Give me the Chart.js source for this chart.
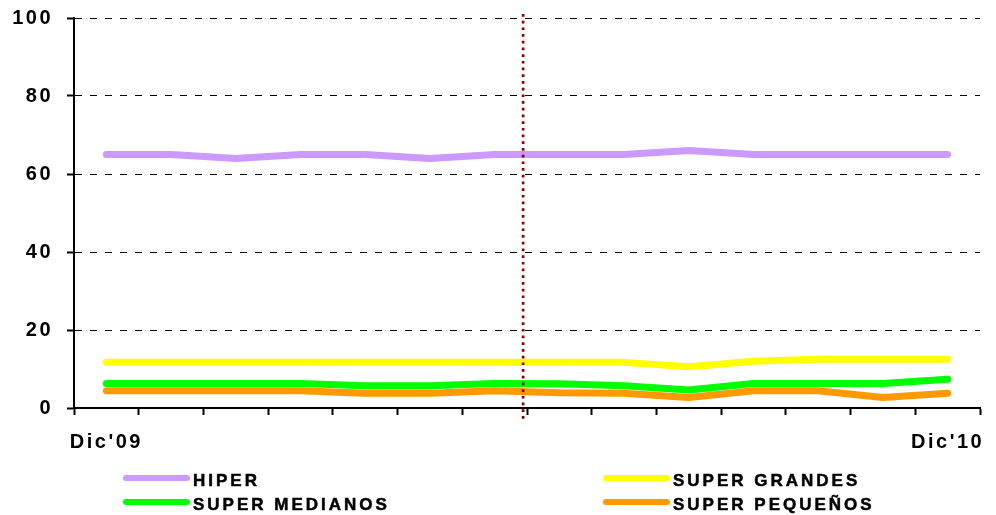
<!DOCTYPE html>
<html>
<head>
<meta charset="utf-8">
<script src="https://cdn.jsdelivr.net/npm/chart.js@4/dist/chart.umd.min.js"></script>
<style>
  html, body { margin: 0; padding: 0; background: #fff; }
  #wrap { position: relative; width: 996px; height: 515px; }
  #legend {
    position: absolute; left: 0; top: 0; width: 996px; height: 515px;
    pointer-events: none;
    font: bold 17px "Liberation Sans", Arial, sans-serif;
    letter-spacing: 3px; color: #000;
    -webkit-text-stroke: 0.5px #000;
  }
  .item { position: absolute; display: flex; align-items: center; height: 20px; white-space: nowrap; }
  .sw { width: 67px; height: 6px; border-radius: 3px; margin-right: 3px; position: relative; top: -3px; }
</style>
</head>
<body>
<div id="wrap">
  <canvas id="chart" width="996" height="515"></canvas>
  <div id="legend"></div>
</div>
<script>
  // ── 데이터 ──────────────────────────────────────────────
  var LABELS = ["Dic'09", "", "", "", "", "", "", "", "", "", "", "", "", "Dic'10"];
  var HIPER = [65, 65, 64, 65, 65, 64, 65, 65, 65, 66, 65, 65, 65, 65];
  var SUPER_GRANDES = [11.7, 11.7, 11.7, 11.7, 11.7, 11.7, 11.7, 11.7, 11.7, 10.6, 12, 12.5, 12.5, 12.5];
  var SUPER_MEDIANOS = [6.3, 6.3, 6.3, 6.3, 5.7, 5.7, 6.3, 6.2, 5.7, 4.6, 6.3, 6.3, 6.3, 7.4];
  var SUPER_PEQUENOS = [4.4, 4.4, 4.4, 4.4, 3.8, 3.8, 4.4, 3.9, 3.8, 2.7, 4.4, 4.4, 2.7, 3.8];
  var SERIES_NAMES = ["HIPER", "SUPER GRANDES", "SUPER MEDIANOS", "SUPER PEQUEÑOS"];
  var SERIES_COLORS = ["#CC99FF", "#FFFF00", "#00FF00", "#FF9900"];
  var Y_MIN = 0, Y_MAX = 100, Y_STEP = 20;
  var MARKER_AT = 6.44; // 점선 위치 (카테고리 인덱스 기준)

  var FONT = '"Liberation Sans", Arial, sans-serif';

  // ── 점선 마커 플러그인 ───────────────────────────────────
  var markerPlugin = {
    id: "marker",
    beforeDraw: function (chart) {
      chart.ctx.letterSpacing = "2.5px";
    },
    afterDatasetsDraw: function (chart) {
      var xs = chart.scales.x, area = chart.chartArea, ctx = chart.ctx;
      var i = Math.floor(MARKER_AT);
      var p0 = xs.getPixelForValue(i), p1 = xs.getPixelForValue(i + 1);
      var x = p0 + (p1 - p0) * (MARKER_AT - i);
      ctx.save();
      ctx.strokeStyle = "#8B0000";
      ctx.lineWidth = 2.7;
      ctx.setLineDash([2.7, 4]);
      ctx.beginPath();
      ctx.moveTo(x, area.top - 4);
      ctx.lineTo(x, area.bottom + 14);
      ctx.stroke();
      ctx.restore();
    }
  };

  function makeSet(idx, data) {
    return {
      label: SERIES_NAMES[idx],
      data: data,
      borderColor: SERIES_COLORS[idx],
      backgroundColor: SERIES_COLORS[idx],
      borderWidth: 7,
      borderCapStyle: "round",
      borderJoinStyle: "round",
      pointRadius: 0,
      tension: 0,
      fill: false
    };
  }

  var chart = new Chart(document.getElementById("chart").getContext("2d"), {
    type: "line",
    data: {
      labels: LABELS,
      datasets: [
        makeSet(0, HIPER),
        makeSet(1, SUPER_GRANDES),
        makeSet(2, SUPER_MEDIANOS),
        makeSet(3, SUPER_PEQUENOS)
      ]
    },
    plugins: [markerPlugin],
    options: {
      responsive: false,
      animation: false,
      layout: { autoPadding: false, padding: { left: 0, right: 16, top: 18, bottom: 0 } },
      plugins: { legend: { display: false }, tooltip: { enabled: false } },
      scales: {
        x: {
          type: "category",
          offset: true,
          afterFit: function (s) { s.height = 107; },
          grid: {
            offset: true,
            drawOnChartArea: false,
            drawTicks: true,
            tickLength: 7,
            tickWidth: 2,
            tickColor: "#000"
          },
          border: { display: true, color: "#000", width: 2 },
          ticks: {
            autoSkip: false,
            maxRotation: 0,
            padding: 15,
            color: "#000",
            font: { family: FONT, size: 20, weight: "bold" }
          }
        },
        y: {
          min: Y_MIN,
          max: Y_MAX,
          afterFit: function (s) { s.width = 74; s.paddingTop = 0; s.paddingBottom = 0; },
          grid: {
            color: function (c) { return c.tick && c.tick.value === 0 ? "rgba(0,0,0,0)" : "#000"; },
            lineWidth: 1,
            drawTicks: true,
            tickLength: 7,
            tickWidth: 2,
            tickColor: "#000"
          },
          border: { display: true, color: "#000", width: 2, dash: [7, 8] },
          ticks: {
            stepSize: Y_STEP,
            padding: 14,
            color: "#000",
            font: { family: FONT, size: 20, weight: "bold" }
          }
        }
      }
    }
  });

  // ── HTML 범례 (2열) ──────────────────────────────────────
  var LEGEND_COLS = [123, 603];
  var LEGEND_ROWS = [471, 495];
  var legend = document.getElementById("legend");
  chart.data.datasets.forEach(function (ds, i) {
    var item = document.createElement("div");
    item.className = "item";
    item.style.left = LEGEND_COLS[i % 2] + "px";
    item.style.top = LEGEND_ROWS[Math.floor(i / 2)] + "px";
    var sw = document.createElement("span");
    sw.className = "sw";
    sw.style.background = ds.borderColor;
    var tx = document.createElement("span");
    tx.textContent = ds.label;
    item.appendChild(sw);
    item.appendChild(tx);
    legend.appendChild(item);
  });
</script>
</body>
</html>
